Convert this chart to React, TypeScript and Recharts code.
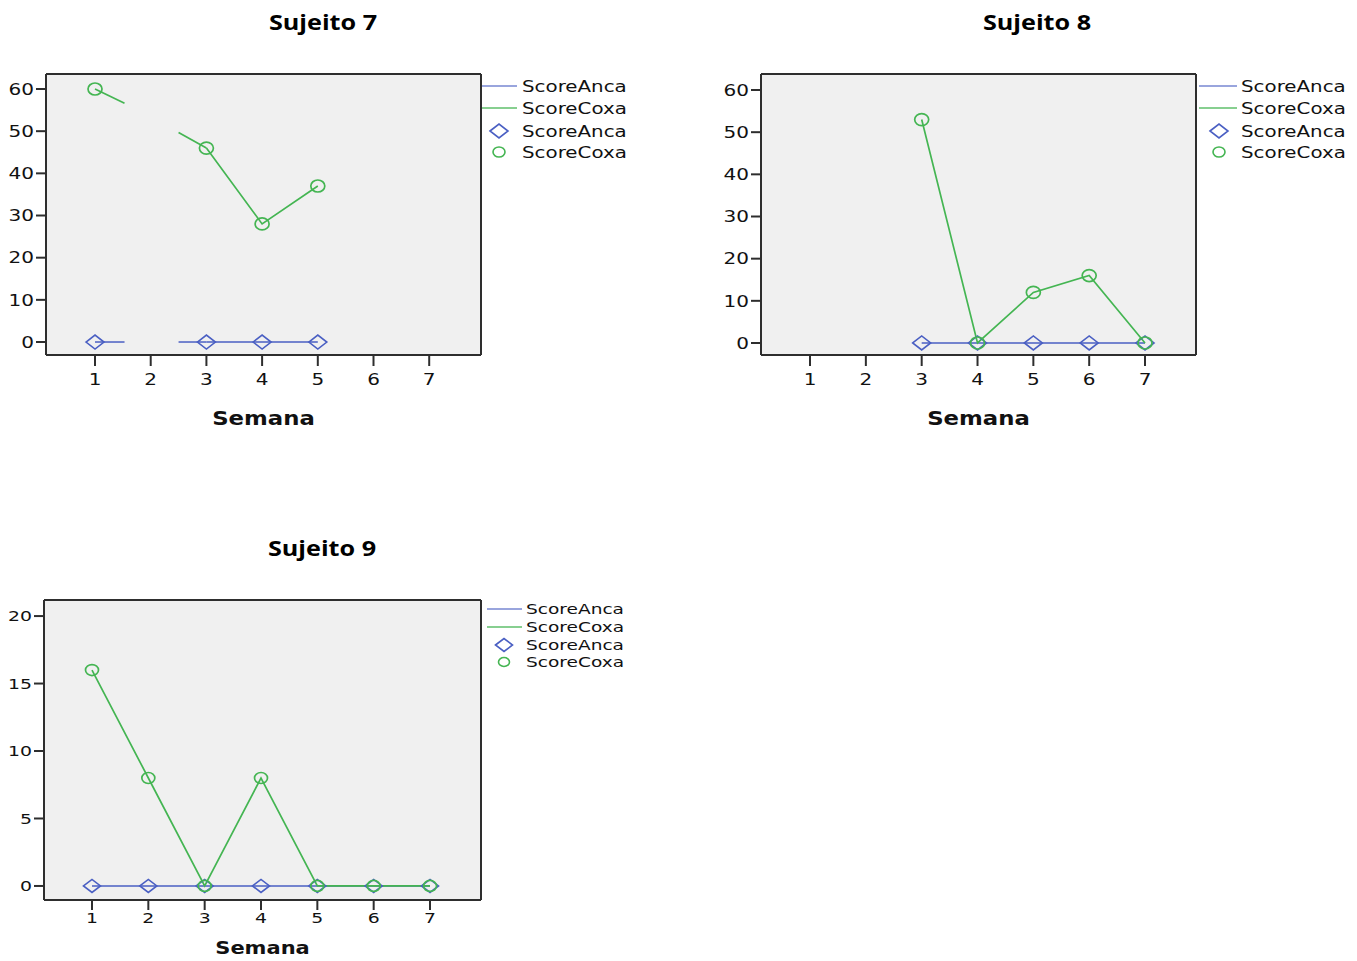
import React from 'react';
import { LineChart, Line, XAxis, YAxis, CartesianGrid, Legend } from 'recharts';

// ---- data ----
const semanas = [1, 2, 3, 4, 5, 6, 7];

const s7ScoreAnca = [0, null, 0, 0, 0, null, null];
const s7ScoreCoxa = [60, null, 46, 28, 37, null, null];

const s8ScoreAnca = [null, null, 0, 0, 0, 0, 0];
const s8ScoreCoxa = [null, null, 53, 0, 12, 16, 0];

const s9ScoreAnca = [0, 0, 0, 0, 0, 0, 0];
const s9ScoreCoxa = [16, 8, 0, 8, 0, 0, 0];

// partial segments drawn toward the missing week 2 of Sujeito 7
const s7AncaStubA = [{ semana: 1, v: 0 }, { semana: 1.53, v: 0 }];
const s7AncaStubB = [{ semana: 2.5, v: 0 }, { semana: 3, v: 0 }];
const s7CoxaStubA = [{ semana: 1, v: 60 }, { semana: 1.53, v: 56.6 }];
const s7CoxaStubB = [{ semana: 2.5, v: 49.7 }, { semana: 3, v: 46 }];

const yTicks60 = [0, 10, 20, 30, 40, 50, 60];
const yTicks20 = [0, 5, 10, 15, 20];

const legendNames = ['ScoreAnca', 'ScoreCoxa', 'ScoreAnca', 'ScoreCoxa'];

const BLUE = '#4a5fc3';
const GREEN = '#44b552';
const FRAME = '#2e2e2e';
const TXT = '#111111';

// ---- layout configs ----
const panels = [
  {
    title: 'Sujeito 7', titleX: 323, titleTop: 8, titleSize: 21,
    left: 0, top: 60, width: 660, height: 380, mt: 14, mr: 179, xh: 85, yw: 46,
    xDomain: [0.12, 7.93], yDomain: [-3.08, 63.56], yTicks: yTicks60,
    anca: s7ScoreAnca, coxa: s7ScoreCoxa,
    stubs: [
      { data: s7AncaStubA, color: BLUE }, { data: s7AncaStubB, color: BLUE },
      { data: s7CoxaStubA, color: GREEN }, { data: s7CoxaStubB, color: GREEN },
    ],
    tickSize: 11, xTickDy: 13, tickFont: 16, tickScale: 1.25, labelDy: 63, labelFont: 19,
    legLeft: 482, legTop: 14, legRows: [12, 34, 57, 78], legLineEnd: 35, legMarkX: 17, legTextX: 40,
    legFont: 16, legScale: 1.24,
    dHW: 9, dHH: 7, cRX: 7, cRY: 6,
  },
  {
    title: 'Sujeito 8', titleX: 1037, titleTop: 8, titleSize: 21,
    left: 715, top: 60, width: 642, height: 380, mt: 14, mr: 161, xh: 85, yw: 46,
    xDomain: [0.122, 7.913], yDomain: [-2.85, 63.8], yTicks: yTicks60,
    anca: s8ScoreAnca, coxa: s8ScoreCoxa, stubs: [],
    tickSize: 11, xTickDy: 13, tickFont: 16, tickScale: 1.25, labelDy: 63, labelFont: 19,
    legLeft: 484, legTop: 14, legRows: [12, 34, 57, 78], legLineEnd: 38, legMarkX: 20, legTextX: 42,
    legFont: 16, legScale: 1.24,
    dHW: 9, dHH: 7, cRX: 7, cRY: 6,
  },
  {
    title: 'Sujeito 9', titleX: 322, titleTop: 534, titleSize: 21,
    left: 0, top: 585, width: 660, height: 376, mt: 15, mr: 179, xh: 61, yw: 44,
    xDomain: [0.148, 7.905], yDomain: [-1.04, 21.19], yTicks: yTicks20,
    anca: s9ScoreAnca, coxa: s9ScoreCoxa, stubs: [],
    tickSize: 10, xTickDy: 8, tickFont: 14.5, tickScale: 1.3, labelDy: 48, labelFont: 17.5,
    legLeft: 487, legTop: 15, legRows: [9, 27, 45, 62], legLineEnd: 35, legMarkX: 17, legTextX: 39,
    legFont: 14.5, legScale: 1.28,
    dHW: 8.5, dHH: 6.5, cRX: 6.5, cRY: 5.5,
  },
];

function diamondPath(cx: number, cy: number, hw: number, hh: number) {
  return `M${cx - hw},${cy} L${cx},${cy - hh} L${cx + hw},${cy} L${cx},${cy + hh} Z`;
}

function LegendBox({ cfg }: any) {
  const w = 170;
  const h = cfg.legRows[3] + 12;
  return (
    <svg width={w} height={h} style={{ display: 'block', overflow: 'visible' }}>
      <line x1={0} x2={cfg.legLineEnd} y1={cfg.legRows[0]} y2={cfg.legRows[0]} stroke={BLUE} strokeWidth={1.6} opacity={0.75} />
      <line x1={0} x2={cfg.legLineEnd} y1={cfg.legRows[1]} y2={cfg.legRows[1]} stroke={GREEN} strokeWidth={1.6} opacity={0.85} />
      <path d={diamondPath(cfg.legMarkX, cfg.legRows[2], cfg.dHW, cfg.dHH)} fill="none" stroke={BLUE} strokeWidth={1.6} />
      <ellipse cx={cfg.legMarkX} cy={cfg.legRows[3]} rx={cfg.cRX - 1} ry={cfg.cRY - 1} fill="none" stroke={GREEN} strokeWidth={1.6} />
      {legendNames.map((n, i) => (
        <text key={i} x={0} y={0} transform={`translate(${cfg.legTextX},${cfg.legRows[i]}) scale(${cfg.legScale},1)`}
          dy="0.36em" fontFamily="DejaVu Sans" fontSize={cfg.legFont} fill={TXT}>{n}</text>
      ))}
    </svg>
  );
}

function Panel({ cfg }: any) {
  const rows = semanas.map((s, i) => ({ semana: s, anca: cfg.anca[i], coxa: cfg.coxa[i] }));
  const axisLine = { stroke: FRAME, strokeWidth: 2 };
  const tickLine = { stroke: FRAME, strokeWidth: 2 };

  const xTick = (p: any) => (
    <text x={0} y={0} transform={`translate(${p.x},${p.y + cfg.xTickDy}) scale(${cfg.tickScale},1)`}
      textAnchor="middle" dy="0.36em" fontFamily="DejaVu Sans" fontSize={cfg.tickFont} fill={TXT}>
      {p.payload.value}
    </text>
  );
  const yTick = (p: any) => (
    <text x={0} y={0} transform={`translate(${p.x},${p.y}) scale(${cfg.tickScale},1)`}
      textAnchor="end" dy="0.36em" fontFamily="DejaVu Sans" fontSize={cfg.tickFont} fill={TXT}>
      {p.payload.value}
    </text>
  );
  const diamond = (p: any) => {
    if (p.cx == null || p.cy == null || p.value == null) return <g key={`d${p.index}`} />;
    return <path key={`d${p.index}`} d={diamondPath(p.cx, p.cy, cfg.dHW, cfg.dHH)} fill="none" stroke={BLUE} strokeWidth={1.6} />;
  };
  const circle = (p: any) => {
    if (p.cx == null || p.cy == null || p.value == null) return <g key={`c${p.index}`} />;
    return <ellipse key={`c${p.index}`} cx={p.cx} cy={p.cy} rx={cfg.cRX} ry={cfg.cRY} fill="none" stroke={GREEN} strokeWidth={1.7} />;
  };
  const axisLabel = (p: any) => {
    const vb = p.viewBox || {};
    return (
      <text x={0} y={0} transform={`translate(${vb.x + vb.width / 2},${vb.y + cfg.labelDy}) scale(1.2,1)`}
        textAnchor="middle" dy="0.36em" fontFamily="DejaVu Sans" fontWeight={700} fontSize={cfg.labelFont} fill={TXT}>
        Semana
      </text>
    );
  };

  return (
    <>
      <div style={{
        position: 'absolute', left: cfg.titleX - 150, top: cfg.titleTop, width: 300, textAlign: 'center',
        fontFamily: '"Open Sans", sans-serif', fontWeight: 700, fontSize: cfg.titleSize, lineHeight: '28px',
        transform: 'scaleX(1.2)', color: '#000',
      }}>{cfg.title}</div>
      <div style={{ position: 'absolute', left: cfg.left, top: cfg.top }}>
        <LineChart width={cfg.width} height={cfg.height} data={rows}
          margin={{ top: cfg.mt, right: cfg.mr, bottom: 0, left: 0 }}>
          <CartesianGrid fill="#f0f0f0" fillOpacity={1} stroke={FRAME} strokeWidth={2}
            horizontalValues={[cfg.yDomain[1]]} verticalValues={[cfg.xDomain[1]]} />
          <XAxis dataKey="semana" type="number" domain={cfg.xDomain} ticks={semanas} interval={0} allowDataOverflow
            height={cfg.xh} tickSize={cfg.tickSize} tickMargin={0} axisLine={axisLine} tickLine={tickLine}
            tick={xTick} label={{ position: 'bottom', content: axisLabel }} />
          <YAxis type="number" domain={cfg.yDomain} ticks={cfg.yTicks} interval={0} allowDataOverflow
            width={cfg.yw} tickSize={10} tickMargin={2} axisLine={axisLine} tickLine={tickLine} tick={yTick} />
          <Legend layout="vertical" align="center" verticalAlign="middle"
            wrapperStyle={{ left: cfg.legLeft, top: cfg.legTop, width: 170 }}
            content={() => <LegendBox cfg={cfg} />} />
          {cfg.stubs.filter((s: any) => s.color === BLUE).map((s: any, i: number) => (
            <Line key={`sb${i}`} data={s.data} dataKey="v" stroke={BLUE} strokeWidth={1.5} dot={false}
              activeDot={false} isAnimationActive={false} legendType="none" />
          ))}
          <Line dataKey="anca" name="ScoreAnca" stroke={BLUE} strokeWidth={1.5} dot={diamond}
            activeDot={false} isAnimationActive={false} connectNulls={false} />
          {cfg.stubs.filter((s: any) => s.color === GREEN).map((s: any, i: number) => (
            <Line key={`sg${i}`} data={s.data} dataKey="v" stroke={GREEN} strokeWidth={1.7} dot={false}
              activeDot={false} isAnimationActive={false} legendType="none" />
          ))}
          <Line dataKey="coxa" name="ScoreCoxa" stroke={GREEN} strokeWidth={1.7} dot={circle}
            activeDot={false} isAnimationActive={false} connectNulls={false} />
        </LineChart>
      </div>
    </>
  );
}

export default function App() {
  return (
    <div style={{ position: 'absolute', left: 0, top: 0, width: 1357, height: 961, background: '#fff', overflow: 'hidden' }}>
      {panels.map((cfg, i) => <Panel key={i} cfg={cfg} />)}
    </div>
  );
}
